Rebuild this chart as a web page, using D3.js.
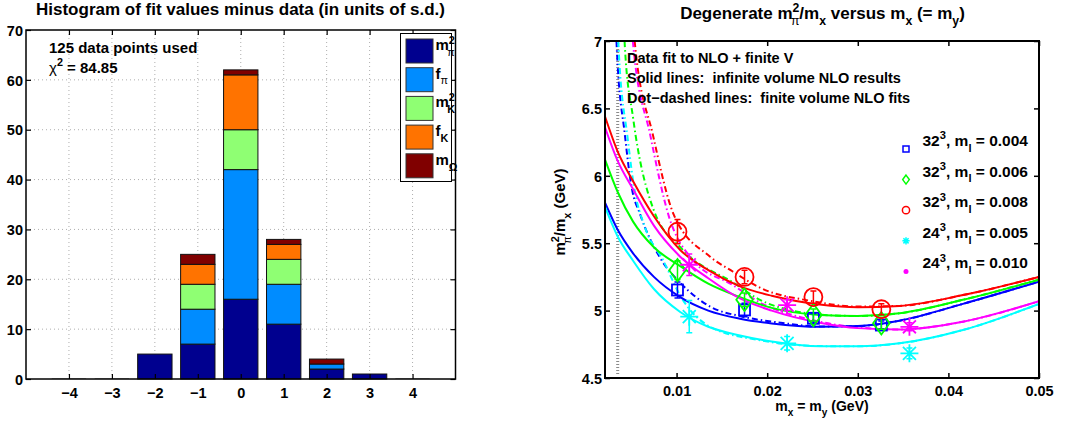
<!DOCTYPE html>
<html>
<head>
<meta charset="utf-8">
<script src="https://cdn.jsdelivr.net/npm/d3@7"></script>
<style>
  body { margin: 0; background: #fff; }
  text { font-family: "Liberation Sans", Arial, sans-serif; font-weight: bold; fill: #000; }
</style>
</head>
<body>
<div id="chart"></div>
<script>
// ---------- histogram data (left panel) ----------
const histBins = [-4, -3, -2, -1, 0, 1, 2, 3, 4];
const countsMpi2 = [0, 0, 5, 7, 16, 11, 2, 1, 0];
const countsFpi = [0, 0, 0, 7, 26, 8, 1, 0, 0];
const countsMK2 = [0, 0, 0, 5, 8, 5, 0, 0, 0];
const countsFK = [0, 0, 0, 4, 11, 3, 0, 0, 0];
const countsMOmega = [0, 0, 0, 2, 1, 1, 1, 0, 0];
const histKeys = ["mpi2", "fpi", "mK2", "fK", "mOmega"];
const histYTicks = [0, 10, 20, 30, 40, 50, 60, 70];
const histInfo = ["125 data points used", "84.85"];

// ---------- m_pi^2/m_x data (right panel) ----------
const xTicksR = [0.01, 0.02, 0.03, 0.04, 0.05];
const yTicksR = [4.5, 5, 5.5, 6, 6.5, 7];
const volumeCutX = 0.0035;

// measured points
const mx32 = [0.0101, 0.0175, 0.0251, 0.0326];
const mx24 = [0.0114, 0.0222, 0.0357];
const y004 = [5.153, 5.005, 4.943, 4.893];
const e004 = [0.06, 0.05, 0.035, 0.03];
const y006 = [5.30, 5.08, 4.967, 4.906];
const e006 = [0.07, 0.05, 0.045, 0.045];
const y008 = [5.585, 5.25, 5.10, 5.01];
const e008 = [0.09, 0.05, 0.045, 0.04];
const y005 = [4.955, 4.757, 4.683];
const e005 = [0.12, 0.05, 0.04];
const y010 = [5.34, 5.04, 4.88];
const e010 = [0.08, 0.04, 0.03];

// infinite volume NLO curves (solid)
const solidX = [0.0021, 0.0035, 0.0052, 0.0075, 0.0104, 0.0135, 0.017, 0.0205, 0.0258, 0.030, 0.0346, 0.0416, 0.050];
const solid004 = [5.80, 5.60, 5.425, 5.25, 5.10, 5.00, 4.94, 4.905, 4.88, 4.885, 4.925, 5.05, 5.215];
const solid006 = [6.12, 5.88, 5.66, 5.47, 5.33, 5.20, 5.10, 5.02, 4.968, 4.96, 4.98, 5.08, 5.23];
const solid008 = [6.44, 6.18, 5.96, 5.70, 5.45, 5.30, 5.18, 5.11, 5.045, 5.025, 5.035, 5.115, 5.25];
const solid005 = [5.77, 5.55, 5.37, 5.16, 4.99, 4.88, 4.815, 4.77, 4.735, 4.735, 4.757, 4.856, 5.05];
const solid010 = [6.36, 6.11, 5.90, 5.63, 5.40, 5.24, 5.09, 5.00, 4.91, 4.87, 4.86, 4.918, 5.07];

// finite volume NLO fits (dot-dashed)
const dashX004 = [0.0031, 0.0034, 0.0043, 0.0050, 0.0060, 0.0082, 0.0105, 0.0137, 0.0173, 0.0215, 0.0258, 0.030, 0.0346, 0.0416, 0.050];
const dash004 = [7.6, 6.95, 6.30, 5.93, 5.71, 5.39, 5.20, 5.03, 4.955, 4.91, 4.882, 4.885, 4.925, 5.05, 5.215];
const dashX005 = [0.0032, 0.0036, 0.0046, 0.0053, 0.0065, 0.0085, 0.0105, 0.0137, 0.0192, 0.0258, 0.030, 0.0346, 0.0416, 0.050];
const dash005 = [7.6, 6.95, 6.28, 5.92, 5.62, 5.375, 5.10, 4.88, 4.78, 4.737, 4.735, 4.757, 4.856, 5.05];
const dashX006 = [0.0039, 0.0043, 0.0052, 0.0074, 0.0107, 0.0162, 0.0192, 0.0235, 0.0258, 0.030, 0.0346, 0.0416, 0.050];
const dash006 = [7.6, 6.95, 6.43, 5.76, 5.45, 5.21, 5.08, 4.99, 4.97, 4.96, 4.98, 5.08, 5.23];
const dashX010 = [0.0047, 0.0052, 0.0071, 0.0091, 0.0118, 0.0162, 0.0192, 0.025, 0.030, 0.0346, 0.0416, 0.050];
const dash010 = [7.6, 6.98, 6.30, 5.71, 5.375, 5.19, 5.06, 4.93, 4.875, 4.86, 4.918, 5.07];
const dashX008 = [0.0049, 0.0054, 0.0074, 0.0097, 0.0137, 0.0162, 0.0192, 0.025, 0.030, 0.0346, 0.0416, 0.050];
const dash008 = [7.6, 6.98, 6.30, 5.71, 5.40, 5.29, 5.17, 5.07, 5.03, 5.035, 5.115, 5.25];

const W = 1073, H = 423;
const svg = d3.select("#chart").append("svg")
    .attr("width", W)
    .attr("height", H);

// text with superscripts / subscripts, parts = [text, kind, dx]
function rich(sel, parts, size) {
    let shift = 0;
    parts.forEach(([t, k, dx]) => {
        const target = k === "sup" ? -0.42 * size : k === "sub" ? 0.38 * size : 0;
        const ts = sel.append("tspan")
            .attr("dy", target - shift)
            .attr("font-size", k ? size * 0.72 : size)
            .text(t);
        if (dx) ts.attr("dx", dx);
        if (t === "π" || t === "χ") ts.style("font-weight", "normal");
        shift = target;
    });
    return sel;
}

// ================= LEFT PANEL =================
const xL = d3.scaleLinear().domain([-5, 5]).range([26, 455.5]);
const yL = d3.scaleLinear().domain([0, 70]).range([379, 30]);
const left = svg.append("g");

left.append("text")
    .attr("x", 240.5).attr("y", 15)
    .attr("text-anchor", "middle")
    .attr("font-size", 17)
    .text("Histogram of fit values minus data (in units of s.d.)");

// dotted grid
left.append("g").selectAll("line.gx")
    .data(histBins)
    .join("line")
    .attr("x1", d => xL(d)).attr("x2", d => xL(d))
    .attr("y1", yL(0)).attr("y2", yL(70))
    .attr("stroke", "#999").attr("stroke-width", 0.8)
    .attr("stroke-dasharray", "1,3");
left.append("g").selectAll("line.gy")
    .data(histYTicks.slice(1, -1))
    .join("line")
    .attr("x1", xL(-5)).attr("x2", xL(5))
    .attr("y1", d => yL(d)).attr("y2", d => yL(d))
    .attr("stroke", "#999").attr("stroke-width", 0.8)
    .attr("stroke-dasharray", "1,3");

// stacked bars
const histRows = histBins.map((b, i) => ({
    bin: b,
    mpi2: countsMpi2[i],
    fpi: countsFpi[i],
    mK2: countsMK2[i],
    fK: countsFK[i],
    mOmega: countsMOmega[i]
}));
const histColor = d3.scaleOrdinal()
    .domain(histKeys)
    .range(["#00008f", "#008cff", "#8fff73", "#ff7300", "#800000"]);
const stacked = d3.stack().keys(histKeys)(histRows);
const barW = xL(0.4) - xL(-0.4);

left.append("g").selectAll("g")
    .data(stacked)
    .join("g")
    .attr("fill", d => histColor(d.key))
    .selectAll("rect")
    .data(d => d.filter(s => s[1] > s[0]))
    .join("rect")
    .attr("x", d => xL(d.data.bin) - barW / 2)
    .attr("y", d => yL(d[1]))
    .attr("width", barW)
    .attr("height", d => yL(d[0]) - yL(d[1]))
    .attr("stroke", "#111")
    .attr("stroke-width", 1);

// zero-height bars
const histTotal = histRows.map(r => d3.sum(histKeys, k => r[k]));
left.append("g").selectAll("line")
    .data(histRows.filter((r, i) => histTotal[i] === 0))
    .join("line")
    .attr("x1", d => xL(d.bin) - barW / 2)
    .attr("x2", d => xL(d.bin) + barW / 2)
    .attr("y1", yL(0) - 0.5).attr("y2", yL(0) - 0.5)
    .attr("stroke", "#aaa").attr("stroke-width", 1.2);

// axes box with inward ticks
left.append("rect")
    .attr("x", xL(-5)).attr("y", yL(70))
    .attr("width", xL(5) - xL(-5)).attr("height", yL(0) - yL(70))
    .attr("fill", "none").attr("stroke", "#000").attr("stroke-width", 1.5);

const axL = left.append("g").attr("transform", `translate(0,${yL(0)})`)
    .call(d3.axisBottom(xL).tickValues(histBins).tickSize(-5).tickPadding(8.5)
        .tickFormat(d => d < 0 ? "\u2212" + Math.abs(d) : d));
const axLT = left.append("g").attr("transform", `translate(0,${yL(70)})`)
    .call(d3.axisTop(xL).tickValues(histBins).tickSize(-5).tickFormat(""));
const ayL = left.append("g").attr("transform", `translate(${xL(-5)},0)`)
    .call(d3.axisLeft(yL).tickValues(histYTicks).tickSize(-5).tickPadding(3));
const ayLR = left.append("g").attr("transform", `translate(${xL(5)},0)`)
    .call(d3.axisRight(yL).tickValues(histYTicks).tickSize(-5).tickFormat(""));
[axL, axLT, ayL, ayLR].forEach(a => {
    a.select(".domain").remove();
    a.selectAll(".tick line").attr("stroke", "#000").attr("stroke-width", 1.2);
    a.selectAll("text").attr("font-size", 14.5).attr("font-family", null).attr("fill", "#000");
});
axL.selectAll("text").attr("dy", "0.72em");
ayL.selectAll("text").attr("dy", "0.36em");

left.append("text")
    .attr("x", 49).attr("y", 53)
    .attr("font-size", 15)
    .text(histInfo[0]);
rich(left.append("text").attr("x", 49).attr("y", 72.5),
    [["χ", ""], ["2", "sup"], [" =  " + histInfo[1], ""]], 15);

// legend
const legL = left.append("g");
legL.append("rect")
    .attr("x", 400.5).attr("y", 33.5).attr("width", 51).attr("height", 148)
    .attr("fill", "#fff").attr("stroke", "#000").attr("stroke-width", 1);
const legLabels = [
    [["m", ""], ["2", "sup"], ["π", "sub", -7.5]],
    [["f", ""], ["π", "sub"]],
    [["m", ""], ["2", "sup"], ["K", "sub", -7.5]],
    [["f", ""], ["K", "sub"]],
    [["m", ""], ["Ω", "sub"]]
];
histKeys.forEach((k, i) => {
    const cy = 51 + i * 28.7;
    legL.append("rect")
        .attr("x", 406).attr("y", cy - 12)
        .attr("width", 27).attr("height", 24)
        .attr("fill", histColor(k)).attr("stroke", "#333").attr("stroke-width", 1);
    rich(legL.append("text").attr("x", 435.5).attr("y", cy - 1), legLabels[i], 15);
});

// ================= RIGHT PANEL =================
const xR = d3.scaleLinear().domain([0.0021, 0.05]).range([605, 1039]);
const yR = d3.scaleLinear().domain([4.5, 7]).range([378, 41]);
const right = svg.append("g");

rich(right.append("text").attr("x", 822.5).attr("y", 19).attr("text-anchor", "middle"),
    [["Degenerate m", ""], ["2", "sup"], ["π", "sub", -8.5], ["/m", ""], ["x", "sub"],
     [" versus m", ""], ["x", "sub"], [" (= m", ""], ["y", "sub"], [")", ""]], 17);

right.append("defs").append("clipPath").attr("id", "clipR")
    .append("rect")
    .attr("x", xR.range()[0]).attr("y", yR.range()[1])
    .attr("width", xR.range()[1] - xR.range()[0])
    .attr("height", yR.range()[0] - yR.range()[1]);

const plotR = right.append("g").attr("clip-path", "url(#clipR)");

plotR.append("line")
    .attr("x1", xR(volumeCutX)).attr("x2", xR(volumeCutX))
    .attr("y1", yR(4.5) - 4).attr("y2", yR(7))
    .attr("stroke", "#8a8a8a").attr("stroke-width", 3)
    .attr("stroke-dasharray", "1,2");

const lineR = d3.line()
    .x(d => xR(d[0]))
    .y(d => yR(d[1]))
    .curve(d3.curveMonotoneX);

const ensembles = [
    { color: "#0000ff", marker: "square", x: mx32, y: y004, e: e004,
      solid: solid004, dashX: dashX004, dash: dash004,
      label: [["32", ""], ["3", "sup"], [", m", ""], ["l", "sub"], [" = 0.004", ""]] },
    { color: "#00ff00", marker: "diamond", x: mx32, y: y006, e: e006,
      solid: solid006, dashX: dashX006, dash: dash006,
      label: [["32", ""], ["3", "sup"], [", m", ""], ["l", "sub"], [" = 0.006", ""]] },
    { color: "#ff0000", marker: "circle", x: mx32, y: y008, e: e008,
      solid: solid008, dashX: dashX008, dash: dash008,
      label: [["32", ""], ["3", "sup"], [", m", ""], ["l", "sub"], [" = 0.008", ""]] },
    { color: "#00ffff", marker: "star", x: mx24, y: y005, e: e005,
      solid: solid005, dashX: dashX005, dash: dash005,
      label: [["24", ""], ["3", "sup"], [", m", ""], ["l", "sub"], [" = 0.005", ""]] },
    { color: "#ff00ff", marker: "star", x: mx24, y: y010, e: e010,
      solid: solid010, dashX: dashX010, dash: dash010,
      label: [["24", ""], ["3", "sup"], [", m", ""], ["l", "sub"], [" = 0.010", ""]] }
];

// dot-dashed fits
plotR.append("g").selectAll("path")
    .data(ensembles)
    .join("path")
    .attr("d", d => lineR(d.dashX.map((x, i) => [x, d.dash[i]])))
    .attr("fill", "none")
    .attr("stroke", d => d.color)
    .attr("stroke-width", 2)
    .attr("stroke-dasharray", "6,3,1.5,3");

// solid infinite volume curves
plotR.append("g").selectAll("path")
    .data(ensembles)
    .join("path")
    .attr("d", d => lineR(solidX.map((x, i) => [x, d.solid[i]])))
    .attr("fill", "none")
    .attr("stroke", d => d.color)
    .attr("stroke-width", 2);

function drawMarker(g, type, color, s, lw) {
    if (type === "square") {
        g.append("rect").attr("x", -s / 2).attr("y", -s / 2).attr("width", s).attr("height", s)
            .attr("fill", "none").attr("stroke", color).attr("stroke-width", lw);
    } else if (type === "diamond") {
        g.append("path").attr("d", `M0,${-s * 0.75}L${s * 0.55},0L0,${s * 0.75}L${-s * 0.55},0Z`)
            .attr("fill", "none").attr("stroke", color).attr("stroke-width", lw);
    } else if (type === "circle") {
        g.append("circle").attr("r", s * 0.6)
            .attr("fill", "none").attr("stroke", color).attr("stroke-width", lw);
    } else if (type === "star") {
        const r = s * 0.6, q = r * 0.72;
        g.append("path").attr("d", `M0,${-r}V${r}M${-q},${-q}L${q},${q}M${-q},${q}L${q},${-q}M${-r},0H${r}`)
            .attr("fill", "none").attr("stroke", color).attr("stroke-width", lw);
    } else if (type === "dot") {
        g.append("circle").attr("r", s / 2).attr("fill", color);
    }
}

// data points with error bars
ensembles.forEach(ens => {
    const g = plotR.append("g");
    ens.x.forEach((x, i) => {
        const px = xR(x), lo = yR(ens.y[i] - ens.e[i]), hi = yR(ens.y[i] + ens.e[i]);
        g.append("path")
            .attr("d", `M${px},${lo}V${hi}M${px - 3},${lo}H${px + 3}M${px - 3},${hi}H${px + 3}`)
            .attr("stroke", ens.color).attr("stroke-width", 1.5).attr("fill", "none");
        const m = g.append("g").attr("transform", `translate(${px},${yR(ens.y[i])})`);
        drawMarker(m, ens.marker, ens.color, ens.marker === "square" ? 11 : 15, 1.8);
    });
});

// axes box
right.append("rect")
    .attr("x", xR.range()[0]).attr("y", yR.range()[1])
    .attr("width", xR.range()[1] - xR.range()[0])
    .attr("height", yR.range()[0] - yR.range()[1])
    .attr("fill", "none").attr("stroke", "#000").attr("stroke-width", 2);

const axR = right.append("g").attr("transform", `translate(0,${yR(4.5)})`)
    .call(d3.axisBottom(xR).tickValues(xTicksR).tickSize(-5).tickPadding(8).tickFormat(d3.format(".2f")));
const axRT = right.append("g").attr("transform", `translate(0,${yR(7)})`)
    .call(d3.axisTop(xR).tickValues(xTicksR).tickSize(-5).tickFormat(""));
const ayR = right.append("g").attr("transform", `translate(${xR.range()[0]},0)`)
    .call(d3.axisLeft(yR).tickValues(yTicksR).tickSize(-5).tickPadding(3).tickFormat(d3.format("")));
const ayRR = right.append("g").attr("transform", `translate(${xR.range()[1]},0)`)
    .call(d3.axisRight(yR).tickValues(yTicksR).tickSize(-5).tickFormat(""));
[axR, axRT, ayR, ayRR].forEach(a => {
    a.select(".domain").remove();
    a.selectAll(".tick line").attr("stroke", "#000").attr("stroke-width", 1.5);
    a.selectAll("text").attr("font-size", 14.5).attr("font-family", null).attr("fill", "#000");
});
axR.selectAll("text").attr("dy", "0.72em");
ayR.selectAll("text").attr("dy", "0.36em");

// axis labels
rich(right.append("text").attr("x", 822).attr("y", 411).attr("text-anchor", "middle"),
    [["m", ""], ["x", "sub"], [" = m", ""], ["y", "sub"], [" (GeV)", ""]], 14);
rich(right.append("text")
        .attr("transform", "translate(565,212) rotate(-90)")
        .attr("text-anchor", "middle"),
    [["m", ""], ["2", "sup"], ["π", "sub", -7.5], ["/m", ""], ["x", "sub"], [" (GeV)", ""]], 15);

// annotations
const notes = ["Data fit to NLO + finite V", "Solid lines:  infinite volume NLO results", "Dot\u2212dashed lines:  finite volume NLO fits"];
right.append("g").selectAll("text")
    .data(notes)
    .join("text")
    .attr("x", 627)
    .attr("y", (d, i) => 63 + i * 20)
    .attr("font-size", 14.5)
    .attr("xml:space", "preserve")
    .style("white-space", "pre")
    .text(d => d);

// legend
const legMarkers = ["square", "diamond", "circle", "star", "dot"];
ensembles.forEach((ens, i) => {
    const cy = 149 + i * 30.6;
    const m = right.append("g").attr("transform", `translate(906,${cy})`);
    drawMarker(m, legMarkers[i], ens.color, legMarkers[i] === "dot" ? 5 : 6, 1.5);
    rich(right.append("text").attr("x", 922.5).attr("y", cy - 3), ens.label, 15.5);
});
</script>
</body>
</html>
